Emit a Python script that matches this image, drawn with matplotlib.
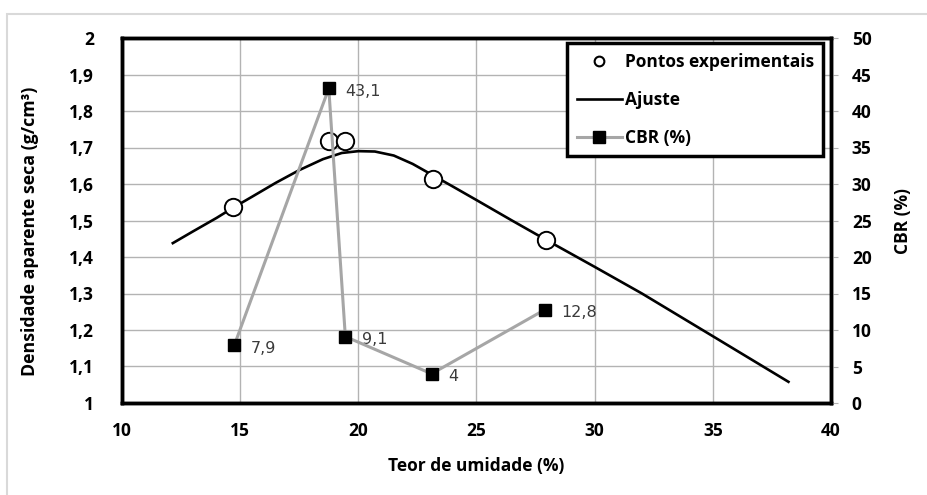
import matplotlib.pyplot as plt
from matplotlib.patches import Rectangle
from matplotlib.lines import Line2D

# experimental points (umidade %, densidade g/cm3)
umid_exp = [14.7, 18.75, 19.45, 23.15, 27.95]
dens_exp = [1.537, 1.718, 1.718, 1.614, 1.447]

# fitted curve
umid_fit = [12.15, 13.0, 14.0, 14.7, 15.5, 16.5, 17.5, 18.5, 19.3, 20.0, 20.7,
            21.5, 22.3, 23.15, 24.0, 25.0, 26.5, 28.0, 30.0, 32.0, 35.0, 38.2]
dens_fit = [1.438, 1.47, 1.507, 1.535, 1.565, 1.603, 1.638, 1.668, 1.685, 1.690, 1.689,
            1.678, 1.655, 1.624, 1.593, 1.556, 1.500, 1.445, 1.373, 1.300, 1.183, 1.058]

# CBR
umid_cbr = [14.75, 18.75, 19.45, 23.1, 27.9]
cbr = [7.9, 43.1, 9.1, 4.0, 12.8]
cbr_labels = ['7,9', '43,1', '9,1', '4', '12,8']

xticks = [10, 15, 20, 25, 30, 35, 40]
yticks = [1.0, 1.1, 1.2, 1.3, 1.4, 1.5, 1.6, 1.7, 1.8, 1.9, 2.0]
ylabels = ['1', '1,1', '1,2', '1,3', '1,4', '1,5', '1,6', '1,7', '1,8', '1,9', '2']
y2ticks = [0, 5, 10, 15, 20, 25, 30, 35, 40, 45, 50]

font = 'Open Sans'
bold = dict(fontfamily=font, fontweight='bold')

fig = plt.figure(figsize=(9.28, 4.95), dpi=100)
fig.patches.append(Rectangle((7/928, -0.1), 1.0, 1 - 14/495 + 0.1, transform=fig.transFigure,
                             fill=False, edgecolor='#d9d9d9', linewidth=1.5))

ax = fig.add_axes([122/928, 1 - 403/495, (831-122)/928, (403-38)/495])
ax.set_xlim(10, 40)
ax.set_ylim(1, 2)
ax.set_xticks(xticks)
ax.set_xticklabels([str(v) for v in xticks], fontsize=12.5, **bold)
ax.set_yticks(yticks)
ax.set_yticklabels(ylabels, fontsize=12.5, **bold)
ax.tick_params(axis='x', length=0, pad=14)
ax.tick_params(axis='y', length=0, pad=20)
ax.grid(True, color='#b3b3b3', linewidth=1)
ax.set_axisbelow(True)
for s in ax.spines.values():
    s.set_linewidth(2.5)
    s.set_color('black')

ax.plot(umid_fit, dens_fit, color='black', linewidth=1.9, zorder=3)
ax.plot(umid_exp, dens_exp, 'o', markersize=12.5, markerfacecolor='white',
        markeredgecolor='black', markeredgewidth=1.4, zorder=4)

ax.set_xlabel('Teor de umidade (%)', fontsize=12.5, labelpad=12, **bold)
ax.set_ylabel('Densidade aparente seca (g/cm³)', fontsize=12.8, **bold)
ax.yaxis.set_label_coords(-0.117, 0.47)

ax2 = ax.twinx()
ax2.set_ylim(0, 50)
ax2.set_yticks(y2ticks)
ax2.set_yticklabels([str(v) for v in y2ticks], fontsize=12.5, **bold)
ax2.tick_params(axis='y', length=5, color='#b3b3b3', pad=10)
for s in ax2.spines.values():
    s.set_linewidth(2.5)
ax2.plot(umid_cbr, cbr, color='#a6a6a6', linewidth=2.2, marker='s', markersize=9,
         markerfacecolor='black', markeredgecolor='black', zorder=5)
for x, y, t in zip(umid_cbr, cbr, cbr_labels):
    ax2.annotate(t, (x, y), xytext=(12, -2), textcoords='offset points', va='center',
                 fontsize=11.5, color='#3a3a3a', family='DejaVu Sans')
ax2.set_ylabel('CBR (%)', fontsize=12.5, **bold)
ax2.yaxis.set_label_coords(1.089, 0.5)

handles = [
    Line2D([], [], linestyle='none', marker='o', markersize=7, markerfacecolor='white',
           markeredgecolor='black', markeredgewidth=1.5),
    Line2D([], [], color='black', linewidth=1.9),
    Line2D([], [], color='#a6a6a6', linewidth=2.2, marker='s', markersize=8,
           markerfacecolor='black', markeredgecolor='black'),
]
leg = ax2.legend(handles, ['Pontos experimentais', 'Ajuste', 'CBR (%)'], loc='upper right',
                 bbox_to_anchor=(0.989, 0.986), prop={'family': font, 'weight': 'bold', 'size': 12.5},
                 fancybox=False, framealpha=1, edgecolor='black', handlelength=2.6,
                 handletextpad=0.15, borderpad=0.55, labelspacing=1.15, borderaxespad=0)
leg.get_frame().set_linewidth(2.5)
leg.set_zorder(10)

plt.savefig('out.png', dpi=100)
